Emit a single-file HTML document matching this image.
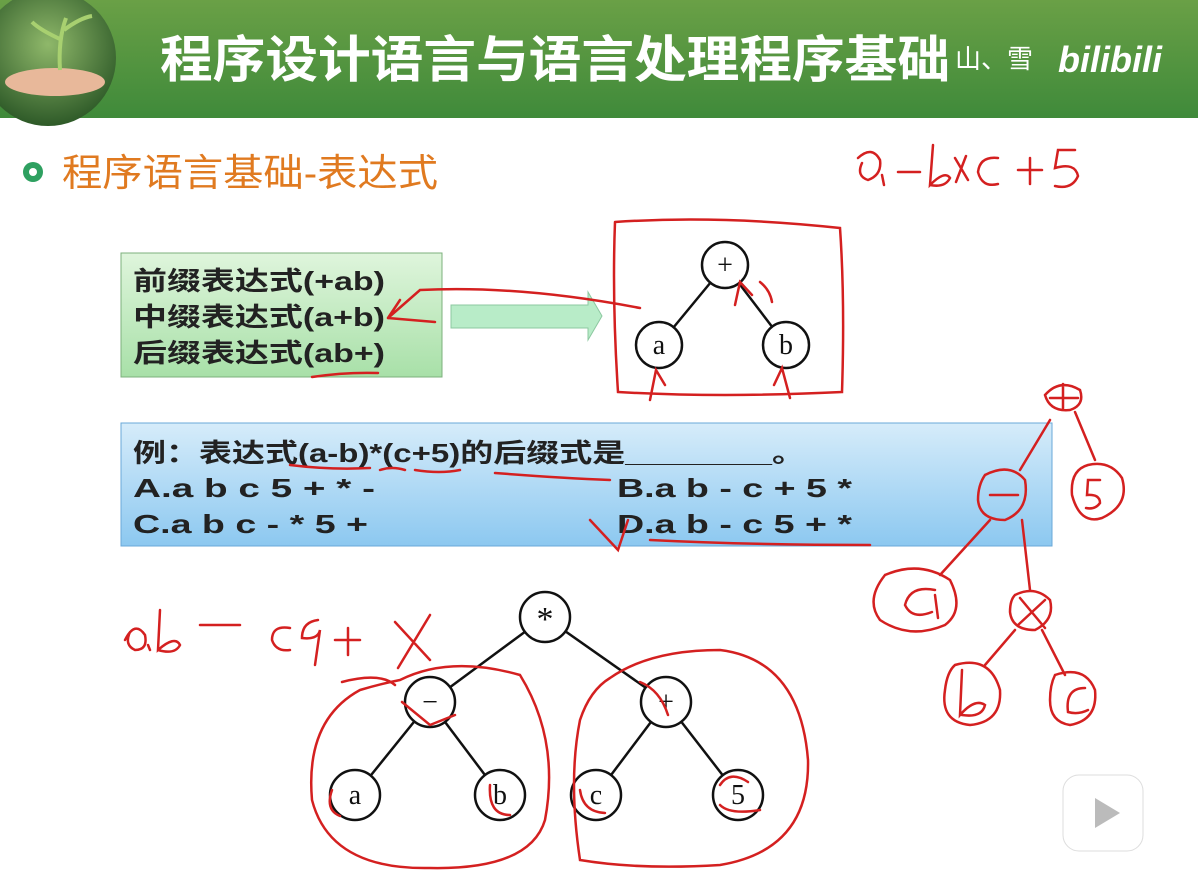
<!DOCTYPE html>
<html><head><meta charset="utf-8"><style>
body{margin:0;width:1198px;height:890px;overflow:hidden;background:#fff;font-family:"Liberation Sans","Noto Sans CJK SC",sans-serif}
svg{display:block}
</style></head><body>
<svg width="1198" height="890" viewBox="0 0 1198 890" xmlns="http://www.w3.org/2000/svg" font-family="Liberation Sans, Noto Sans CJK SC, sans-serif">
<defs>
<linearGradient id="hd" x1="0" y1="0" x2="0" y2="1"><stop offset="0" stop-color="#6aa046"/><stop offset="1" stop-color="#3f8a3a"/></linearGradient>
<linearGradient id="gb" x1="0" y1="0" x2="0" y2="1"><stop offset="0" stop-color="#dff5dc"/><stop offset="1" stop-color="#a8e0a8"/></linearGradient>
<linearGradient id="bb" x1="0" y1="0" x2="0" y2="1"><stop offset="0" stop-color="#d6ecfa"/><stop offset="1" stop-color="#8cc8f0"/></linearGradient>
<radialGradient id="ci" cx="0.5" cy="0.4" r="0.6"><stop offset="0" stop-color="#8fb86a"/><stop offset="1" stop-color="#2e5a28"/></radialGradient>
</defs>
<rect x="0" y="0" width="1198" height="118" fill="url(#hd)"/>
<circle cx="48" cy="58" r="68" fill="url(#ci)"/>
<ellipse cx="55" cy="82" rx="50" ry="14" fill="#e8b89a"/>
<path d="M60 70 Q58 40 66 18 M62 40 Q40 30 32 22 M64 30 Q80 18 92 16" stroke="#a8d070" stroke-width="4" fill="none"/>
<text x="160" y="77" font-size="50" fill="#fff" font-weight="bold" textLength="790" lengthAdjust="spacingAndGlyphs">程序设计语言与语言处理程序基础</text>
<text x="955" y="68" font-size="26" fill="#fff">山、雪</text>
<text x="1058" y="72" font-size="36" fill="#fff" font-weight="bold" font-style="italic">bilibili</text>
<circle cx="33" cy="172" r="10" fill="#2ea060"/>
<circle cx="33" cy="172" r="4" fill="#fff"/>
<text x="62" y="186" font-size="38" fill="#e07a20" textLength="376" lengthAdjust="spacingAndGlyphs">程序语言基础-表达式</text>

<rect x="121" y="253" width="321" height="124" fill="url(#gb)" stroke="#7cb07c"/>
<g font-size="26" font-weight="bold" fill="#222">
<text x="133" y="290" textLength="252" lengthAdjust="spacingAndGlyphs">前缀表达式(+ab)</text>
<text x="133" y="326" textLength="252" lengthAdjust="spacingAndGlyphs">中缀表达式(a+b)</text>
<text x="133" y="362" textLength="252" lengthAdjust="spacingAndGlyphs">后缀表达式(ab+)</text>
</g>
<path d="M451 305 H588 V292 L602 316 L588 340 V328 H451 Z" fill="#b8ecc8" stroke="#8cc8a0"/>

<rect x="121" y="423" width="931" height="123" fill="url(#bb)" stroke="#6aa8d8"/>
<g font-size="26" font-weight="bold" fill="#222">
<text x="133" y="462" textLength="672" lengthAdjust="spacingAndGlyphs">例：表达式(a-b)*(c+5)的后缀式是________。</text>
<text x="133" y="497" textLength="242" lengthAdjust="spacingAndGlyphs">A.a b c 5 + * -</text>
<text x="133" y="533" textLength="235" lengthAdjust="spacingAndGlyphs">C.a b c - * 5 +</text>
<text x="617" y="497" textLength="235" lengthAdjust="spacingAndGlyphs">B.a b - c + 5 *</text>
<text x="617" y="533" textLength="235" lengthAdjust="spacingAndGlyphs">D.a b - c 5 + *</text>
</g>

<g stroke="#111" stroke-width="2.5" fill="none">
<line x1="725" y1="265" x2="659" y2="345"/><line x1="725" y1="265" x2="786" y2="345"/>
<line x1="545" y1="617" x2="430" y2="702"/><line x1="545" y1="617" x2="666" y2="702"/>
<line x1="430" y1="702" x2="355" y2="795"/><line x1="430" y1="702" x2="500" y2="795"/>
<line x1="666" y1="702" x2="596" y2="795"/><line x1="666" y1="702" x2="738" y2="795"/>
</g>
<g stroke="#111" stroke-width="2.5" fill="#fff">
<circle cx="725" cy="265" r="23"/><circle cx="659" cy="345" r="23"/><circle cx="786" cy="345" r="23"/>
<circle cx="545" cy="617" r="25"/><circle cx="430" cy="702" r="25"/><circle cx="666" cy="702" r="25"/>
<circle cx="355" cy="795" r="25"/><circle cx="500" cy="795" r="25"/><circle cx="596" cy="795" r="25"/><circle cx="738" cy="795" r="25"/>
</g>
<g font-family="Liberation Serif, serif" font-size="28" text-anchor="middle" fill="#111">
<text x="725" y="274">+</text><text x="659" y="354">a</text><text x="786" y="354">b</text>
<text x="545" y="630" font-size="34">*</text><text x="430" y="711">−</text><text x="666" y="711">+</text>
<text x="355" y="804">a</text><text x="500" y="804">b</text><text x="596" y="804">c</text><text x="738" y="804">5</text>
</g>

<g stroke="#d42020" stroke-width="2.5" fill="none" stroke-linecap="round">
<path d="M615 222 Q720 215 840 228 Q845 300 842 392 Q720 398 618 392 Q612 300 615 222"/>
<path d="M388 318 L420 290 Q520 285 640 308 M388 318 L435 322 M388 318 L400 300"/>
<path d="M312 377 Q345 372 378 373"/>
<path d="M650 400 L656 370 L665 385 M790 398 L782 368 L774 385 M735 305 L740 282 L752 295 M760 282 Q770 290 772 302"/>
<path d="M858 158 Q872 145 880 160 Q882 175 868 180 Q856 176 862 163 M882 175 L884 185 M898 172 H920 M933 145 L930 185 Q945 170 950 178 Q945 188 930 185 M955 158 L968 180 M966 156 L956 182 M998 158 Q980 156 978 172 Q982 188 998 184 M1018 170 H1042 M1030 158 V184 M1075 150 H1058 L1055 168 Q1075 162 1078 176 Q1072 190 1055 186"/>
<path d="M125 640 Q135 620 145 635 Q148 650 135 650 Q124 645 130 632 M148 645 L150 650 M160 610 L158 650 Q175 635 180 645 Q175 655 158 650 M200 625 H240 M290 628 Q272 625 272 640 Q276 652 290 650 M318 620 Q302 622 302 638 Q318 640 320 630 L315 665 M335 640 H360 M348 628 V655 M395 622 L430 660 M430 615 L398 668"/>
<path d="M290 465 Q330 470 370 468 M380 470 Q392 466 405 470 M415 470 Q440 474 460 470 M495 473 Q560 478 610 480 M650 540 Q750 545 870 545 M590 520 L618 550 L628 520"/>
<path d="M400 680 Q450 655 520 675 Q560 740 545 820 Q530 870 430 868 Q330 870 312 800 Q305 720 360 690 Q380 684 400 680"/>
<path d="M610 678 Q650 650 720 650 Q800 660 808 760 Q810 850 720 865 Q640 870 580 860 Q568 780 580 720 Q590 690 610 678"/>
<path d="M342 682 Q380 672 395 685 M402 702 L430 725 L455 715 M640 682 Q660 690 668 715 M332 790 Q325 810 340 816 M490 785 Q488 815 510 815 M580 790 Q583 812 605 813 M720 785 Q730 770 748 782 M720 805 Q730 815 760 810"/>
<path d="M1045 395 Q1060 378 1080 390 Q1085 405 1070 410 Q1050 412 1045 395 M1063 384 V408 M1050 398 H1078"/>
<path d="M1088 465 Q1070 470 1072 495 Q1080 525 1102 518 Q1130 505 1122 478 Q1110 460 1088 465 M1100 480 H1088 L1087 495 Q1100 494 1100 503 Q1095 510 1086 508"/>
<path d="M985 475 Q1010 462 1025 480 Q1030 510 1005 520 Q980 520 978 500 Q978 485 985 475 M990 495 H1018"/>
<path d="M1050 420 L1020 470 M1075 412 L1095 460 M990 520 L940 575 M1022 520 L1030 590"/>
<path d="M885 575 Q920 560 950 580 Q965 610 945 625 Q910 640 880 620 Q865 600 885 575 M935 590 Q910 585 905 605 Q912 620 932 612 M935 595 L938 618"/>
<path d="M1015 595 Q1035 585 1050 600 Q1055 620 1035 630 Q1012 630 1010 612 Q1010 600 1015 595 M1020 598 L1045 628 M1045 600 L1018 625 M1015 630 L985 665 M1042 630 L1065 675"/>
<path d="M955 665 Q990 655 1000 690 Q1002 722 970 725 Q940 722 945 690 Q947 672 955 665 M962 670 L960 715 Q975 698 985 705 Q982 718 962 715"/>
<path d="M1055 675 Q1085 665 1095 690 Q1098 720 1070 725 Q1050 722 1050 700 Q1050 685 1055 675 M1085 688 Q1065 688 1068 712 Q1078 715 1088 710"/>
</g>
<rect x="1063" y="775" width="80" height="76" rx="16" fill="#fff" fill-opacity="0.8" stroke="#ddd"/>
<path d="M1095 798 L1120 813 L1095 828 Z" fill="#bbb"/>
</svg>
</body></html>
